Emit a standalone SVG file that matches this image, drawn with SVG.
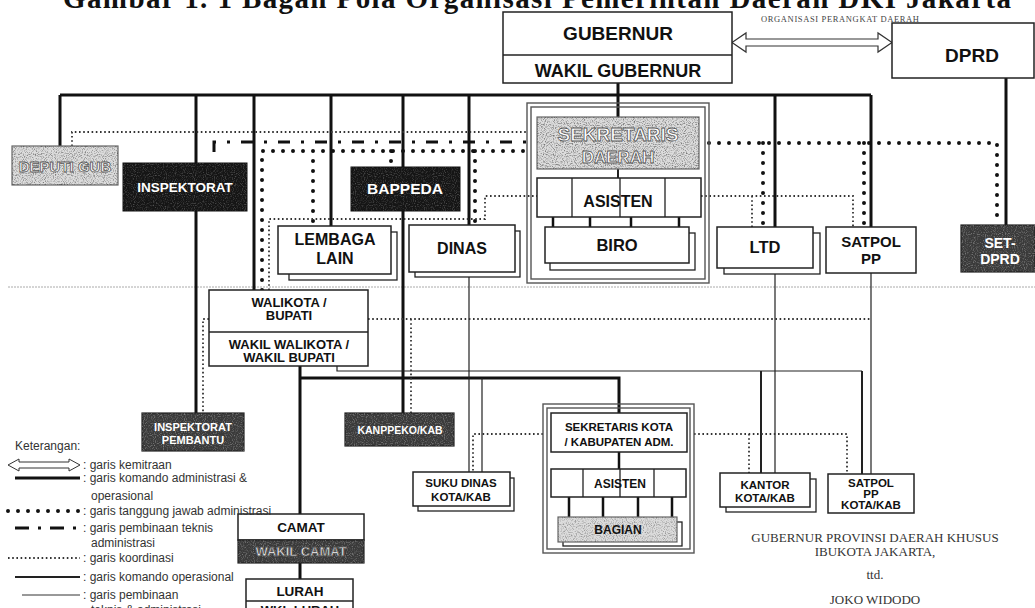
<svg xmlns="http://www.w3.org/2000/svg" width="1035" height="608" viewBox="0 0 1035 608">
<defs>
<style>
.box{fill:#fff;stroke:#222;stroke-width:1.5}
.sh{fill:#fff;stroke:#222;stroke-width:1.3}
.blk{fill:#151515;stroke:#111;stroke-width:1}
.drk{fill:#3a3a3a;stroke:#222;stroke-width:1.2}
.lgt{fill:#dcdcdc;stroke:#666;stroke-width:1.2}
.frm{fill:none;stroke:#555;stroke-width:1.4}
.t{font-family:"Liberation Sans",Arial,sans-serif;font-weight:bold;fill:#111;text-anchor:middle}
.tw{font-family:"Liberation Sans",Arial,sans-serif;font-weight:bold;fill:#fff;text-anchor:middle}
.to{font-family:"Liberation Sans",Arial,sans-serif;font-weight:bold;fill:#fff;stroke:#555;stroke-width:0.8;text-anchor:middle}
.lg{font-family:"Liberation Sans",Arial,sans-serif;fill:#333;font-size:12px}
.sg{font-family:"Liberation Serif","Times New Roman",serif;fill:#333;font-size:13px;text-anchor:middle}
.cmd{fill:none;stroke:#111;stroke-width:3}
.med{fill:none;stroke:#222;stroke-width:2}
.thin{fill:none;stroke:#222;stroke-width:1.2}
.bd{fill:none;stroke:#111;stroke-width:4;stroke-linecap:round;stroke-dasharray:0 10}
.fd{fill:none;stroke:#333;stroke-width:1.8;stroke-dasharray:1.6 2.6}
.dd{fill:none;stroke:#111;stroke-width:3;stroke-dasharray:12 11 3 11}
.sep{fill:none;stroke:#aaa;stroke-width:1;stroke-dasharray:2 1}
</style>
<filter id="specW" x="0" y="0" width="1" height="1">
<feTurbulence type="fractalNoise" baseFrequency="0.9" numOctaves="1" seed="3" result="n"/>
<feColorMatrix in="n" type="matrix" values="0 0 0 0 1 0 0 0 0 1 0 0 0 0 1 3 0 0 0 -1.45"/>
<feComposite operator="in" in2="SourceGraphic"/>
</filter>
<filter id="specK" x="0" y="0" width="1" height="1">
<feTurbulence type="fractalNoise" baseFrequency="0.9" numOctaves="1" seed="7" result="n"/>
<feColorMatrix in="n" type="matrix" values="0 0 0 0 0 0 0 0 0 0 0 0 0 0 0 3 0 0 0 -1.4"/>
<feComposite operator="in" in2="SourceGraphic"/>
</filter>
</defs>
<rect width="1035" height="608" fill="#fff"/>

<text x="63" y="8" font-family="Liberation Serif,'Times New Roman',serif" font-weight="bold" font-size="29" textLength="948" fill="#111">Gambar 1. 1 Bagan Pola Organisasi Pemerintah Daerah DKI Jakarta</text>
<text x="761" y="22" font-family="Liberation Serif,'Times New Roman',serif" font-size="8.5" textLength="158" fill="#444">ORGANISASI PERANGKAT DAERAH</text>

<line class="sep" x1="8" y1="287" x2="1035" y2="287"/>

<g id="connectors">
<path class="cmd" d="M618,83V117M60,95H871M60,95V146M196,95V163M196,211V413M254,95V290M331,95V226M403,95V167M403,211V413M469,95V225M775,95V227M871,95V227M1006,78V225M300,366V514M300,563V579M300,378H619V413"/>
<path class="med" d="M618,169V178M761,371V473M862,371V474"/>
<path fill="none" stroke="#111" stroke-width="2.5" d="M553,217V227M590,217V227M631,217V227M679,217V227M569,497V517M603,497V517M638,497V517M672,497V517M619,452V469"/>
<path class="thin" d="M775,268V473M871,273V474M469,272V472M337,366V371H862M482,378V472"/>
<path class="bd" d="M262,290V151H527M313,151V226M391,151V167M475,151V225M709,143H997V225M763,143V227M864,143V227"/>
<path class="dd" d="M214,152V142H527"/>
<path class="fd" d="M72,146V132H527M269,290V219H485V196H537M701,196H853V227M752,196V227M209,319H203V413M368,319H872M411,319V413M543,434H473V472M694,434H847V474M749,434V473"/>
<polygon points="732,42.5 746,33 746,39 878,39 878,33 892,42.5 878,52 878,46 746,46 746,52" fill="#fff" stroke="#333" stroke-width="1.2"/>
</g>

<g id="gubernur">
<rect class="box" x="503" y="12" width="229" height="71"/>
<line x1="503" y1="55" x2="732" y2="55" stroke="#222" stroke-width="1.5"/>
<text class="t" x="618" y="40" font-size="19">GUBERNUR</text>
<text class="t" x="618" y="77" font-size="18">WAKIL GUBERNUR</text>
</g>
<g id="dprd">
<rect class="box" x="892" y="23" width="142" height="55"/>
<text class="t" x="972" y="62" font-size="19">DPRD</text>
</g>
<g id="deputi">
<rect class="lgt" x="12" y="146" width="106" height="39"/>
<rect x="12" y="146" width="106" height="39" fill="#000" opacity="0.45" filter="url(#specK)"/>
<text class="to" x="65" y="172" font-size="15">DEPUTI GUB</text>
</g>
<g id="inspektorat">
<rect class="blk" x="123" y="163" width="124" height="48"/>
<rect x="123" y="163" width="124" height="48" fill="#fff" opacity="0.25" filter="url(#specW)"/>
<text class="tw" x="185" y="192" font-size="13.5">INSPEKTORAT</text>
</g>
<g id="bappeda">
<rect class="blk" x="351" y="167" width="109" height="44"/>
<rect x="351" y="167" width="109" height="44" fill="#fff" opacity="0.25" filter="url(#specW)"/>
<text class="tw" x="405" y="194" font-size="15.5">BAPPEDA</text>
</g>
<g id="lembaga">
<rect class="sh" x="289" y="232" width="108" height="48"/>
<rect class="box" x="278" y="226" width="113" height="48"/>
<text class="t" x="335" y="245" font-size="16">LEMBAGA</text>
<text class="t" x="335" y="264" font-size="16">LAIN</text>
</g>
<g id="dinas">
<rect class="sh" x="415" y="231" width="105" height="46"/>
<rect class="box" x="409" y="225" width="106" height="47"/>
<text class="t" x="462" y="254" font-size="16">DINAS</text>
</g>
<g id="sekda">
<rect class="frm" x="527" y="103" width="182" height="180"/>
<rect class="frm" x="531" y="107" width="174" height="172"/>
<rect class="lgt" x="537" y="117" width="162" height="52"/>
<rect x="537" y="117" width="162" height="52" fill="#000" opacity="0.5" filter="url(#specK)"/>
<text class="to" x="618" y="141" font-size="19">SEKRETARIS</text>
<text class="to" x="618" y="163" font-size="17">DAERAH</text>
<rect class="box" x="537" y="178" width="164" height="39"/>
<path d="M572,178V217M620,178V217M665,178V217" stroke="#222" stroke-width="1.3"/>
<text class="t" x="618" y="207" font-size="16">ASISTEN</text>
<rect class="sh" x="550" y="233" width="145" height="37"/>
<rect class="box" x="545" y="227" width="144" height="36"/>
<text class="t" x="617" y="251" font-size="16.5">BIRO</text>
</g>
<g id="ltd">
<rect class="sh" x="724" y="233" width="96" height="41"/>
<rect class="box" x="717" y="227" width="96" height="41"/>
<text class="t" x="765" y="253" font-size="16.5">LTD</text>
</g>
<g id="satpol">
<rect class="box" x="826" y="227" width="90" height="46"/>
<text class="t" x="871" y="247" font-size="15">SATPOL</text>
<text class="t" x="871" y="264" font-size="15">PP</text>
</g>
<g id="setdprd">
<rect class="drk" x="961" y="225" width="74" height="47"/>
<rect x="961" y="225" width="74" height="47" fill="#fff" opacity="0.35" filter="url(#specW)"/>
<text class="tw" x="1000" y="248" font-size="14">SET-</text>
<text class="tw" x="1000" y="264" font-size="14">DPRD</text>
</g>
<g id="walikota">
<rect class="box" x="209" y="290" width="159" height="76"/>
<line x1="209" y1="332" x2="368" y2="332" stroke="#222" stroke-width="1.5"/>
<text class="t" x="289" y="307" font-size="13">WALIKOTA /</text>
<text class="t" x="289" y="320" font-size="13">BUPATI</text>
<text class="t" x="289" y="349" font-size="13">WAKIL WALIKOTA /</text>
<text class="t" x="289" y="362" font-size="13">WAKIL BUPATI</text>
</g>
<g id="inspem">
<rect class="drk" x="142" y="413" width="102" height="38"/>
<rect x="142" y="413" width="102" height="38" fill="#fff" opacity="0.35" filter="url(#specW)"/>
<text class="tw" x="193" y="431" font-size="11">INSPEKTORAT</text>
<text class="tw" x="193" y="444" font-size="11">PEMBANTU</text>
</g>
<g id="kanppeko">
<rect class="drk" x="345" y="413" width="109" height="33"/>
<rect x="345" y="413" width="109" height="33" fill="#fff" opacity="0.35" filter="url(#specW)"/>
<text class="tw" x="400" y="434" font-size="10.5">KANPPEKO/KAB</text>
</g>
<g id="sukudinas">
<rect class="sh" x="418" y="478" width="96" height="33"/>
<rect class="box" x="413" y="472" width="97" height="34"/>
<text class="t" x="461" y="487" font-size="11.5">SUKU DINAS</text>
<text class="t" x="461" y="501" font-size="11.5">KOTA/KAB</text>
</g>
<g id="sekkot">
<rect class="frm" x="543" y="404" width="151" height="149"/>
<rect class="frm" x="547" y="408" width="143" height="141"/>
<rect class="box" x="551" y="413" width="136" height="39"/>
<text class="t" x="619" y="431" font-size="11.5">SEKRETARIS KOTA</text>
<text class="t" x="619" y="446" font-size="11.5">/ KABUPATEN ADM.</text>
<rect class="box" x="551" y="469" width="135" height="28"/>
<path d="M583,469V497M620,469V497M654,469V497" stroke="#222" stroke-width="1.3"/>
<text class="t" x="620" y="488" font-size="12">ASISTEN</text>
<rect class="sh" x="563" y="522" width="119" height="24"/>
<rect class="lgt" x="558" y="517" width="119" height="25"/>
<rect x="558" y="517" width="119" height="25" fill="#000" opacity="0.35" filter="url(#specK)"/>
<text class="t" x="618" y="534" font-size="12">BAGIAN</text>
</g>
<g id="kantor">
<rect class="sh" x="726" y="479" width="90" height="33"/>
<rect class="box" x="720" y="473" width="90" height="34"/>
<text class="t" x="765" y="489" font-size="11.5">KANTOR</text>
<text class="t" x="765" y="502" font-size="11.5">KOTA/KAB</text>
</g>
<g id="satpolkota">
<rect class="box" x="828" y="474" width="86" height="39"/>
<text class="t" x="871" y="487" font-size="11.5">SATPOL</text>
<text class="t" x="871" y="498" font-size="11.5">PP</text>
<text class="t" x="871" y="509" font-size="11.5">KOTA/KAB</text>
</g>
<g id="camat">
<rect class="box" x="238" y="514" width="126" height="26"/>
<text class="t" x="301" y="532" font-size="13.5">CAMAT</text>
<rect class="drk" x="238" y="540" width="126" height="23"/>
<rect x="238" y="540" width="126" height="23" fill="#fff" opacity="0.35" filter="url(#specW)"/>
<text class="to" x="301" y="556" font-size="13">WAKIL CAMAT</text>
</g>
<g id="lurah">
<rect class="box" x="246" y="579" width="107" height="40"/>
<line x1="246" y1="601" x2="353" y2="601" stroke="#222" stroke-width="1.5"/>
<text class="t" x="300" y="596" font-size="13.5">LURAH</text>
<text class="t" x="300" y="615" font-size="13">WKL LURAH</text>
</g>

<g id="legend">
<text class="lg" x="15" y="450" font-size="12.5">Keterangan:</text>
<polygon points="8,465 19,459 19,462 69,462 69,459 80,465 69,471 69,468 19,468 19,471" fill="#fff" stroke="#333" stroke-width="1"/>
<line x1="15" y1="478" x2="80" y2="478" stroke="#111" stroke-width="3"/>
<line x1="8" y1="511" x2="80" y2="511" stroke="#111" stroke-width="4" stroke-linecap="round" stroke-dasharray="0 10"/>
<line x1="15" y1="528" x2="82" y2="528" stroke="#111" stroke-width="3" stroke-dasharray="14 9 3 9"/>
<line x1="8" y1="558" x2="80" y2="558" class="fd"/>
<line x1="15" y1="577" x2="80" y2="577" stroke="#222" stroke-width="2"/>
<line x1="22" y1="595" x2="80" y2="595" stroke="#333" stroke-width="1"/>
<text class="lg" x="83" y="469">: garis kemitraan</text>
<text class="lg" x="83" y="482">: garis komando administrasi &amp;</text>
<text class="lg" x="91" y="500">operasional</text>
<text class="lg" x="83" y="515">: garis tanggung jawab administrasi</text>
<text class="lg" x="83" y="532">: garis pembinaan teknis</text>
<text class="lg" x="91" y="547">administrasi</text>
<text class="lg" x="83" y="562">: garis koordinasi</text>
<text class="lg" x="83" y="581">: garis komando operasional</text>
<text class="lg" x="83" y="599">: garis pembinaan</text>
<text class="lg" x="91" y="614">teknis &amp; administrasi</text>
</g>

<g id="signature">
<text class="sg" x="875" y="542">GUBERNUR PROVINSI DAERAH KHUSUS</text>
<text class="sg" x="875" y="556">IBUKOTA JAKARTA,</text>
<text class="sg" x="875" y="579">ttd.</text>
<text class="sg" x="875" y="604">JOKO WIDODO</text>
</g>
</svg>
